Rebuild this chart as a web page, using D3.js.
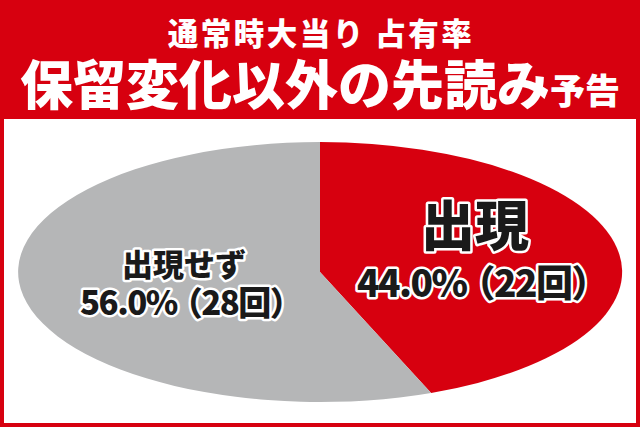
<!DOCTYPE html>
<html><head><meta charset="utf-8">
<script src="https://cdn.jsdelivr.net/npm/d3@7"></script>
<style>
html,body{margin:0;padding:0;background:#fff;}
svg{display:block;}
text{font-family:"Noto Sans CJK JP","Noto Sans",sans-serif;font-weight:900;}
</style></head>
<body>
<script>
const titleLine1 = "通常時大当り 占有率";
const titleLine2Main = "保留変化以外の先読み";
const titleLine2Small = "予告";
const categories = ["出現", "出現せず"];
const percentages = [44.0, 56.0];
const counts = [22, 28];
const colors = ["#d7000f", "#b5b6b7"];

const W = 640, H = 427;
const svg = d3.select("body").append("svg").attr("width", W).attr("height", H);

// frame
svg.append("rect").attr("x",0).attr("y",0).attr("width",W).attr("height",H).attr("fill","#d7000f");
svg.append("rect").attr("x",4).attr("y",119).attr("width",632).attr("height",304).attr("fill","#fff");

// title
svg.append("text").attr("x",321).attr("y",32).attr("text-anchor","middle")
  .attr("dominant-baseline","central").attr("fill","#fff").attr("font-size",30.5)
  .attr("letter-spacing",2.5)
  .text(titleLine1);
const t2 = svg.append("text").attr("x",320).attr("y",82).attr("text-anchor","middle")
  .attr("dominant-baseline","central").attr("fill","#fff");
t2.append("tspan").attr("font-size",53).text(titleLine2Main);
t2.append("tspan").attr("font-size",35).attr("dy",6).text(titleLine2Small);

// pie (circle scaled into ellipse)
const cx = 320, cy = 272, rx = 302, ry = 130;
const pie = d3.pie().sort(null).value(d => d)(percentages);
const arc = d3.arc().innerRadius(0).outerRadius(1);
const g = svg.append("g").attr("transform", `translate(${cx},${cy}) scale(${rx},${ry})`);
g.selectAll("path").data(pie).join("path")
  .attr("d", arc).attr("fill", (d,i) => colors[i]);

// labels
function styled(sel) {
  return sel.attr("fill","#1a1a1a")
    .attr("stroke","#fff").attr("stroke-width",5).attr("stroke-linejoin","round")
    .attr("paint-order","stroke").attr("dominant-baseline","central");
}
function label(i, nameX, nameY, nameSize, valX, valY, valSize) {
  styled(svg.append("text")).attr("text-anchor","middle")
    .attr("x", nameX).attr("y", nameY).attr("font-size", nameSize).text(categories[i]);
  const t = styled(svg.append("text")).attr("text-anchor","start")
    .attr("x", valX).attr("y", valY).attr("font-size", valSize).attr("letter-spacing", -1.5);
  t.append("tspan").text(`${percentages[i].toFixed(1)}%`);
  t.append("tspan").attr("dx", -valSize * 0.22).text(`（${counts[i]}回）`);
}
label(0, 475, 222, 54, 357, 281, 37);
label(1, 184, 262, 31, 80, 301, 33);
</script>
</body></html>
